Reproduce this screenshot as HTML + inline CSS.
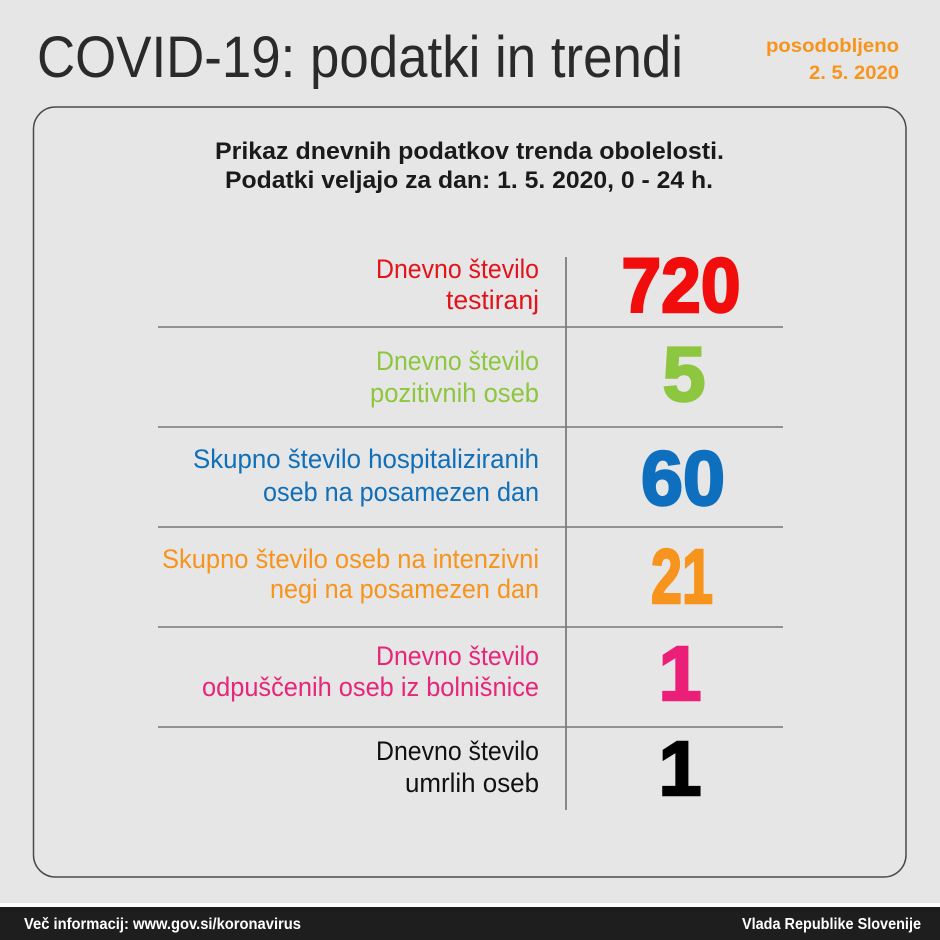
<!DOCTYPE html>
<html>
<head>
<meta charset="utf-8">
<style>
  html, body { margin:0; padding:0; background:#e6e6e6; }
  svg { display:block; }
  text { font-family: "Liberation Sans", sans-serif; }
</style>
</head>
<body>
<svg width="940" height="940" viewBox="0 0 940 940" xmlns="http://www.w3.org/2000/svg">
  <rect x="0" y="0" width="940" height="940" fill="#e6e6e6"/>

  <!-- Title -->
  <text x="37" y="77" font-size="58" fill="#2a2a2a" textLength="646" lengthAdjust="spacingAndGlyphs">COVID-19: podatki in trendi</text>
  <text x="766" y="52" font-size="19" font-weight="bold" fill="#f7941d" textLength="133" lengthAdjust="spacingAndGlyphs">posodobljeno</text>
  <text x="809" y="79" font-size="19" font-weight="bold" fill="#f7941d" textLength="90" lengthAdjust="spacingAndGlyphs">2. 5. 2020</text>

  <!-- Box -->
  <rect x="33.5" y="107" width="872.5" height="770" rx="22" ry="22" fill="none" stroke="#4a4a4a" stroke-width="1.5"/>

  <!-- Subtitle -->
  <text x="215" y="159" font-size="24" font-weight="bold" fill="#1a1a1a" textLength="509" lengthAdjust="spacingAndGlyphs">Prikaz dnevnih podatkov trenda obolelosti.</text>
  <text x="225" y="188" font-size="24" font-weight="bold" fill="#1a1a1a" textLength="488" lengthAdjust="spacingAndGlyphs">Podatki veljajo za dan: 1. 5. 2020, 0 - 24 h.</text>

  <!-- Grid lines -->
  <line x1="566" y1="257" x2="566" y2="810" stroke="#555" stroke-width="1.3"/>
  <g stroke="#777" stroke-width="1.5">
    <line x1="158" y1="327" x2="783" y2="327"/>
    <line x1="158" y1="427" x2="783" y2="427"/>
    <line x1="158" y1="527" x2="783" y2="527"/>
    <line x1="158" y1="627" x2="783" y2="627"/>
    <line x1="158" y1="727" x2="783" y2="727"/>
  </g>

  <!-- Row 1 -->
  <text x="376" y="278" font-size="27" fill="#e3131b" textLength="163" lengthAdjust="spacingAndGlyphs">Dnevno število</text>
  <text x="446" y="309" font-size="27" fill="#e3131b" textLength="93" lengthAdjust="spacingAndGlyphs">testiranj</text>
  <text x="681" y="312" font-size="77" font-weight="bold" fill="#f20d0d" stroke="#f20d0d" stroke-width="2.5" text-anchor="middle" textLength="119" lengthAdjust="spacingAndGlyphs">720</text>

  <!-- Row 2 -->
  <text x="376" y="370" font-size="27" fill="#8dc63f" textLength="163" lengthAdjust="spacingAndGlyphs">Dnevno število</text>
  <text x="370" y="402" font-size="27" fill="#8dc63f" textLength="169" lengthAdjust="spacingAndGlyphs">pozitivnih oseb</text>
  <text x="684" y="401" font-size="77" font-weight="bold" fill="#8dc63f" stroke="#8dc63f" stroke-width="2.5" text-anchor="middle">5</text>

  <!-- Row 3 -->
  <text x="193" y="468" font-size="27" fill="#0f6fb8" textLength="346" lengthAdjust="spacingAndGlyphs">Skupno število hospitaliziranih</text>
  <text x="263" y="501" font-size="27" fill="#0f6fb8" textLength="276" lengthAdjust="spacingAndGlyphs">oseb na posamezen dan</text>
  <text x="683" y="505" font-size="77" font-weight="bold" fill="#0f6fbf" stroke="#0f6fbf" stroke-width="2.5" text-anchor="middle" textLength="84" lengthAdjust="spacingAndGlyphs">60</text>

  <!-- Row 4 -->
  <text x="162" y="568" font-size="27" fill="#f7941d" textLength="377" lengthAdjust="spacingAndGlyphs">Skupno število oseb na intenzivni</text>
  <text x="270" y="598" font-size="27" fill="#f7941d" textLength="269" lengthAdjust="spacingAndGlyphs">negi na posamezen dan</text>
  <text x="682" y="603" font-size="77" font-weight="bold" fill="#f7941d" stroke="#f7941d" stroke-width="2.5" text-anchor="middle" textLength="62" lengthAdjust="spacingAndGlyphs">21</text>

  <!-- Row 5 -->
  <text x="376" y="665" font-size="27" fill="#e6267a" textLength="163" lengthAdjust="spacingAndGlyphs">Dnevno število</text>
  <text x="202" y="696" font-size="27" fill="#e6267a" textLength="337" lengthAdjust="spacingAndGlyphs">odpuščenih oseb iz bolnišnice</text>
  <text x="680" y="700" font-size="77" font-weight="bold" fill="#ec1f78" stroke="#ec1f78" stroke-width="2.5" text-anchor="middle">1</text>

  <!-- Row 6 -->
  <text x="376" y="760" font-size="27" fill="#111" textLength="163" lengthAdjust="spacingAndGlyphs">Dnevno število</text>
  <text x="405" y="792" font-size="27" fill="#111" textLength="134" lengthAdjust="spacingAndGlyphs">umrlih oseb</text>
  <text x="680" y="795" font-size="77" font-weight="bold" fill="#000" stroke="#000" stroke-width="2.5" text-anchor="middle">1</text>

  <!-- Footer -->
  <rect x="0" y="903" width="940" height="4" fill="#ffffff"/>
  <rect x="0" y="907" width="940" height="33" fill="#1e1e1e"/>
  <text x="24" y="929" font-size="16" font-weight="bold" fill="#ffffff" textLength="277" lengthAdjust="spacingAndGlyphs">Več informacij: www.gov.si/koronavirus</text>
  <text x="742" y="929" font-size="16" font-weight="bold" fill="#ffffff" textLength="179" lengthAdjust="spacingAndGlyphs">Vlada Republike Slovenije</text>
</svg>
</body>
</html>
